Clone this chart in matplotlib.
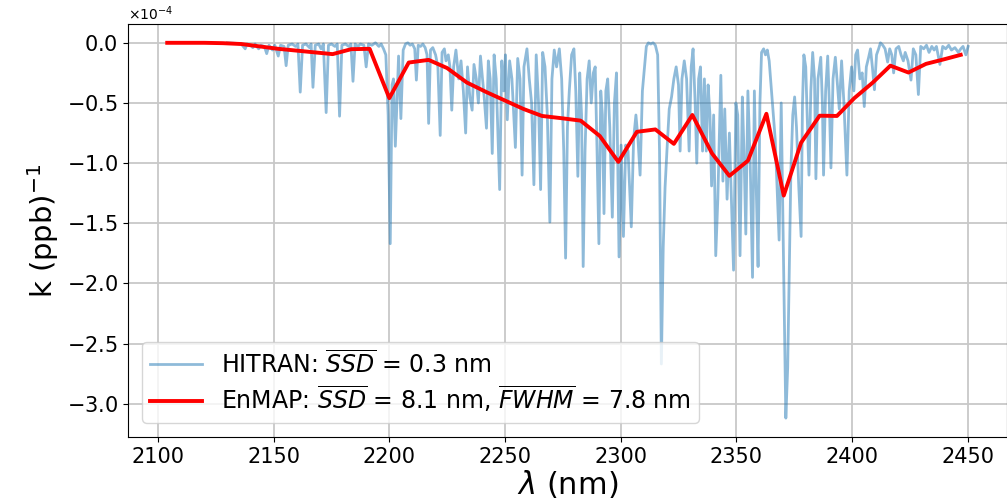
import numpy as np
import matplotlib
matplotlib.use('Agg')
import matplotlib.pyplot as plt

# HITRAN spectrum (wavelength nm, k in 1e-4 (ppb)^-1)
hitran_wl = [
    2130, 2134, 2136, 2137.7, 2138.5, 2140, 2141, 2142, 2143.5, 2144.5, 2146, 2147, 2148, 2149.5, 2150.5,
    2152, 2153, 2154.5, 2155.4, 2156.3, 2158, 2159.5, 2160.5, 2161.5, 2162.5, 2164, 2165.5, 2166.2, 2167,
    2168, 2169.5, 2170.5, 2171.5, 2172.7, 2173.7, 2175, 2176.5, 2177.5, 2178.5, 2179.5, 2181, 2182.5,
    2183.4, 2184.3, 2185.2, 2186.5, 2187.5, 2189, 2190, 2191, 2192.5, 2194, 2195.5, 2196.5, 2197.5,
    2198.5, 2199.5, 2200.4, 2201.2, 2201.8, 2202.6, 2203.3, 2204, 2205, 2206, 2207, 2208, 2209, 2210,
    2211, 2211.7, 2212.5, 2213.5, 2214.5, 2215.5, 2216.3, 2217, 2217.8, 2218.8, 2220, 2221, 2222, 2222.8,
    2223.8, 2224.5, 2225.5, 2226.2, 2227, 2227.8, 2228.8, 2230, 2231, 2232, 2233, 2233.8, 2234.8, 2235.8,
    2236.6, 2237.6, 2238.5, 2239.4, 2240.3, 2241, 2242, 2242.8, 2243.6, 2244.5, 2245.3, 2246.2, 2247.7,
    2248.6, 2249.5, 2250.2, 2251, 2252, 2253, 2254.5, 2255.5, 2256.5, 2257.4, 2258.2, 2259.5, 2260.5,
    2261.5, 2262.5, 2263.5, 2264.5, 2265.4, 2266.3, 2267.3, 2268.3, 2269.4, 2270.3, 2271.3, 2272.3,
    2273.5, 2274.5, 2275.4, 2276.2, 2277, 2277.8, 2278.8, 2279.8, 2280.6, 2281.5, 2282.3, 2283.1, 2283.8,
    2284.6, 2285.5, 2286.4, 2287.3, 2288.2, 2289, 2289.8, 2290.6, 2291.4, 2292.1, 2292.8, 2293.6, 2294.4,
    2295.3, 2296.4, 2297.3, 2298.2, 2299.3, 2300.2, 2301.2, 2302.2, 2303.2, 2304.6, 2305.6, 2306.6,
    2307.5, 2308.4, 2309.4, 2310.3, 2311.1, 2312, 2313, 2314, 2315, 2316, 2316.8, 2317.6, 2318.4, 2319.2,
    2320, 2321, 2322, 2323, 2324, 2325, 2325.7, 2326.5, 2327.5, 2328.5, 2329.6, 2330.5, 2331.3, 2332.2,
    2332.9, 2333.7, 2334.5, 2335.4, 2336.2, 2337, 2337.8, 2338.6, 2339.3, 2340.2, 2341.1, 2342, 2343.3,
    2344.2, 2345, 2346, 2347, 2348.8, 2349.8, 2350.6, 2351.6, 2352.6, 2353.3, 2354.1, 2355, 2356, 2357,
    2357.8, 2358.6, 2359.4, 2360.2, 2360.9, 2361.8, 2362.6, 2363.4, 2364.2, 2365, 2366, 2366.8, 2367.6,
    2368.5, 2369.4, 2370.4, 2371.4, 2372.2, 2372.9, 2373.6, 2374.4, 2375.2, 2376, 2377, 2378, 2378.6,
    2379.2, 2380, 2380.8, 2381.4, 2382.2, 2383, 2383.8, 2384.4, 2385.3, 2386.5, 2387.2, 2387.7, 2388.6,
    2389.5, 2390.2, 2390.9, 2391.8, 2392.8, 2393.5, 2394.5, 2395.5, 2396.5, 2397.8, 2398.8, 2399.8,
    2400.8, 2401.6, 2402.4, 2403.4, 2404.4, 2405.3, 2406.2, 2407.2, 2408, 2408.8, 2409.7, 2410.6, 2411.5,
    2412.3, 2413.3, 2414.3, 2415.4, 2416.3, 2417.2, 2418, 2419, 2420.2, 2421.2, 2422.2, 2423, 2424.2,
    2425.5, 2426.5, 2427.6, 2428.7, 2429.7, 2431, 2432.2, 2433.3, 2434.5, 2435.5, 2436.5, 2438, 2439.2,
    2440.5, 2441.8, 2443, 2444.5, 2446, 2447, 2448, 2449.2, 2450.2,
]
hitran_k = [
    0.0, -0.005, -0.01, -0.05, -0.01, -0.02, -0.04, -0.01, -0.05, -0.02, -0.03, -0.09, -0.02, -0.06, -0.02,
    -0.11, -0.02, -0.03, -0.19, -0.02, -0.01, -0.03, -0.01, -0.41, -0.02, -0.01, -0.04, -0.01, -0.37,
    -0.02, -0.01, -0.05, -0.01, -0.58, -0.02, -0.01, -0.03, -0.01, -0.61, -0.02, -0.01, -0.03,
    -0.01, -0.32, -0.01, -0.03, -0.01, -0.02, -0.2, -0.01, -0.02, 0.0, -0.03, -0.01, -0.05,
    -0.1, -0.6, -1.67, -0.35, -0.3, -0.86, -0.5, -0.11, -0.63, -0.06, -0.01, 0.0, -0.02, -0.01,
    -0.05, -0.31, -0.02, -0.03, -0.01, -0.04, -0.1, -0.67, -0.06, -0.04, -0.1, -0.2, -0.77, -0.08,
    -0.05, -0.15, -0.1, -0.2, -0.56, -0.2, -0.06, -0.3, -0.15, -0.4, -0.75, -0.2, -0.45, -0.56,
    -0.18, -0.3, -0.5, -0.11, -0.3, -0.45, -0.71, -0.15, -0.3, -0.92, -0.1, -0.3, -1.22,
    -0.15, -0.4, -0.1, -0.64, -0.15, -0.3, -0.87, -0.13, -0.3, -1.1, -0.2, -0.05, -0.3,
    -0.5, -1.18, -0.1, -0.5, -1.22, -0.08, -0.2, -0.6, -1.49, -0.3, -0.06, -0.2,
    -0.05, -0.3, -0.9, -1.79, -0.7, -0.4, -0.1, -0.05, -0.4, -1.11, -0.25, -0.6, -1.86,
    -0.9, -0.3, -0.15, -0.5, -0.25, -0.2, -0.9, -1.67, -0.4, -0.6, -1.42, -0.4, -0.3,
    -0.7, -1.45, -0.5, -0.25, -1.78, -0.85, -1.61, -0.85, -0.9, -1.53, -0.8, -0.6,
    -0.8, -1.1, -0.4, -0.2, -0.03, 0.0, -0.01, 0.0, -0.02, -0.1, -0.9, -2.67, -1.7, -1.2,
    -0.9, -0.55, -0.45, -0.3, -0.2, -0.35, -0.9, -0.3, -0.15, -0.3, -0.9, -0.2, -0.05, -0.5,
    -1.0, -0.3, -0.2, -0.9, -0.3, -0.9, -0.35, -0.6, -1.19, -0.6, -1.77, -1.3, -0.27,
    -1.15, -0.55, -1.3, -0.75, -1.89, -0.5, -0.6, -1.77, -0.45, -0.9, -1.59, -0.4, -1.0, -1.95,
    -0.4, -1.2, -1.86, -0.5, -0.08, -0.05, -0.1, -0.06, -0.15, -0.35, -0.6, -0.8, -1.2,
    -1.64, -0.5, -1.8, -3.12, -2.7, -1.9, -1.05, -0.6, -0.45, -0.7, -1.2, -1.61, -0.5,
    -0.1, -0.2, -0.7, -1.1, -0.4, -0.08, -0.3, -1.13, -0.3, -0.12, -0.5, -1.1, -0.4,
    -0.11, -0.5, -1.04, -0.3, -0.12, -0.3, -0.55, -0.15, -0.5, -1.1, -0.4, -0.2,
    -0.4, -0.1, -0.06, -0.3, -0.25, -0.53, -0.2, -0.12, -0.05, -0.2, -0.39, -0.1, -0.05,
    0.0, -0.02, -0.05, -0.16, -0.05, -0.1, -0.25, -0.05, -0.03, -0.1, -0.15, -0.08, -0.15,
    -0.31, -0.05, -0.1, -0.43, -0.03, -0.05, -0.02, -0.08, -0.03, -0.06, -0.03, -0.18, -0.03,
    -0.05, -0.02, -0.06, -0.04, -0.08, -0.05, -0.03, -0.1, -0.03,
]

# EnMAP band values
enmap_wl = [2104, 2112, 2120, 2128, 2136, 2144, 2152, 2160, 2168, 2175.5, 2183.5, 2191.5, 2200,
            2208.4, 2217, 2225, 2233.5, 2242, 2250, 2258, 2266, 2274.5, 2282.7, 2291, 2299, 2307,
            2315, 2323, 2331, 2339.5, 2347, 2355, 2363, 2370.5, 2378, 2386, 2393.5, 2401, 2409,
            2416.6, 2424.4, 2432, 2440, 2447]
enmap_k = [0.0, 0.0, 0.0, -0.003, -0.01, -0.03, -0.05, -0.065, -0.08, -0.094, -0.053, -0.05, -0.46,
           -0.164, -0.142, -0.21, -0.33, -0.41, -0.48, -0.55, -0.608, -0.627, -0.647, -0.775, -0.99,
           -0.74, -0.72, -0.84, -0.60, -0.92, -1.106, -0.98, -0.59, -1.27, -0.83, -0.606, -0.608,
           -0.46, -0.33, -0.19, -0.247, -0.175, -0.136, -0.10]

fig = plt.figure(figsize=(10.07, 5.01), dpi=100)
ax = fig.add_axes([0.127, 0.128, 0.873, 0.824])

ax.plot(hitran_wl, np.array(hitran_k) * 1e-4, color='tab:blue', alpha=0.5, lw=2,
        label=r'HITRAN: $\overline{SSD}$ = 0.3 nm')
ax.plot(enmap_wl, np.array(enmap_k) * 1e-4, color='red', lw=2.8,
        label=r'EnMAP: $\overline{SSD}$ = 8.1 nm, $\overline{FWHM}$ = 7.8 nm')

ax.set_xlim(2087, 2467)
ax.grid(True, color='#c8c8c8', lw=1.3)
ax.set_xticks([2100, 2150, 2200, 2250, 2300, 2350, 2400, 2450])
ax.tick_params(labelsize=15)
ax.ticklabel_format(axis='y', style='sci', scilimits=(0, 0), useMathText=True)
ax.yaxis.get_offset_text().set_fontsize(10)
ax.set_xlabel(r'$\lambda$ (nm)', fontsize=22, labelpad=1)
ax.set_ylabel(r'k (ppb)$^{-1}$', fontsize=21)
ax.legend(loc='lower left', fontsize=17, handlelength=2.2, borderaxespad=0.6,
          labelspacing=0.25, borderpad=0.35)

plt.savefig('out.png', dpi=100)
